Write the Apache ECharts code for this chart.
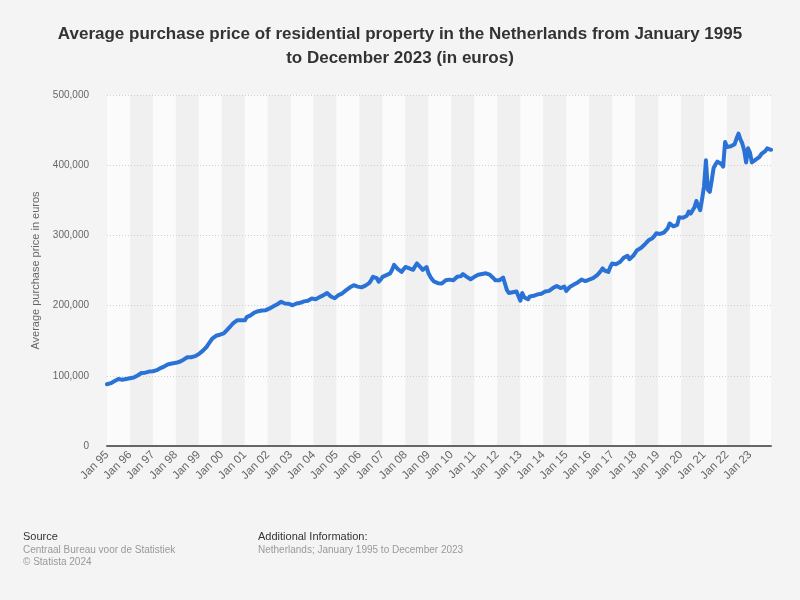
<!DOCTYPE html>
<html>
<head>
<meta charset="utf-8">
<script src="https://cdn.jsdelivr.net/npm/echarts@6/dist/echarts.min.js"></script>
<style>
html,body{margin:0;padding:0;background:#f5f4f4;}
#chart{width:800px;height:600px;}
</style>
</head>
<body>
<div id="chart"></div>
<script>
// Month abbreviations and year labels used for category names / tick labels
const monthNames = ['Jan','Feb','Mar','Apr','May','Jun','Jul','Aug','Sep','Oct','Nov','Dec'];
const yearLabels = ['95','96','97','98','99','00','01','02','03','04','05','06','07','08','09','10','11','12','13','14','15','16','17','18','19','20','21','22','23'];
const yTicks = [0, 100000, 200000, 300000, 400000, 500000];

// Monthly average purchase price (euros)
const p1995 = [88000, 88500, 89500, 91000, 92500, 94000, 95500, 95000, 94500, 95000, 95500, 96500];
const p1996 = [96500, 98000, 97500, 99000, 100500, 102000, 104000, 103500, 104500, 105500, 106000, 107000];
const p1997 = [106500, 107500, 108000, 109500, 111000, 112500, 113500, 115000, 116500, 117000, 117500, 118000];
const p1998 = [118500, 119000, 120000, 121500, 123000, 125000, 126500, 127000, 126500, 127500, 128000, 129000];
const p1999 = [131000, 133000, 135500, 138000, 141000, 145000, 149000, 153000, 155500, 157000, 157500, 158500];
const p2000 = [159000, 160500, 163000, 166000, 169000, 172000, 175000, 177000, 179000, 180500, 179000, 181000];
const p2001 = [179000, 183500, 185000, 186000, 188000, 190000, 191500, 192000, 191000, 193000, 194000, 193500];
const p2002 = [194500, 196000, 198000, 199000, 200500, 202000, 203500, 205500, 204000, 203000, 202000, 202500];
const p2003 = [201000, 200500, 202000, 203000, 203500, 204000, 205000, 206000, 205500, 207000, 208500, 210000];
const p2004 = [207500, 209000, 210500, 212000, 213000, 214500, 216500, 218000, 216000, 213000, 211000, 210500];
const p2005 = [213000, 215000, 216000, 217500, 219500, 222000, 224500, 226000, 227500, 229000, 228000, 227000];
const p2006 = [225000, 226000, 227500, 228500, 229500, 232000, 236000, 241000, 240000, 239000, 234000, 237000];
const p2007 = [241000, 242000, 243500, 245000, 246000, 251000, 258000, 255000, 252000, 251000, 248000, 252000];
const p2008 = [255000, 254000, 253000, 252000, 251000, 256000, 260000, 258000, 254000, 251000, 253000, 255000];
const p2009 = [246000, 241000, 237000, 234000, 233000, 232000, 232500, 231500, 234000, 236000, 235000, 237000];
const p2010 = [239000, 236000, 238000, 241000, 239000, 242000, 245000, 243000, 241000, 239000, 237500, 236000];
const p2011 = [241000, 242000, 244000, 243000, 245000, 247000, 246000, 248000, 244000, 242000, 239000, 236000];
const p2012 = [237000, 236000, 238000, 240000, 241000, 222000, 218000, 217000, 219000, 221000, 220000, 218000];
const p2013 = [207000, 218000, 212000, 214000, 209000, 213000, 215000, 214000, 213000, 216000, 215000, 217000];
const p2014 = [216000, 220000, 219000, 221000, 223000, 225000, 226000, 228000, 227000, 225000, 224000, 227000];
const p2015 = [221000, 223000, 227000, 228000, 230000, 232000, 233000, 235000, 237000, 236000, 235000, 236000];
const p2016 = [237000, 238000, 239000, 240000, 243000, 246000, 249000, 253000, 250000, 249000, 248000, 255000];
const p2017 = [260000, 258000, 259000, 261000, 262000, 265000, 268000, 270000, 271000, 266000, 265000, 271000];
const p2018 = [273000, 279000, 280000, 282000, 284000, 287000, 290000, 293000, 294000, 296000, 299000, 303000];
const p2019 = [301000, 302000, 303000, 304000, 306000, 310000, 317000, 315000, 313000, 312000, 315000, 326000];
const p2020 = [327000, 325000, 324000, 328000, 334000, 331000, 331000, 340000, 349000, 342000, 336000, 352000];
const p2021 = [370000, 407000, 365000, 362000, 378000, 396000, 401000, 405000, 407000, 402000, 398000, 433000];
const p2022 = [426000, 425000, 427000, 429000, 430000, 438000, 445000, 437000, 431000, 421000, 404000, 424000];
const p2023 = [418000, 404000, 403000, 408000, 410000, 412000, 416000, 417000, 420000, 424000, 423000, 422000];

const yearly = [p1995,p1996,p1997,p1998,p1999,p2000,p2001,p2002,p2003,p2004,p2005,p2006,p2007,p2008,p2009,p2010,p2011,p2012,p2013,p2014,p2015,p2016,p2017,p2018,p2019,p2020,p2021,p2022,p2023];

const categories = [];
const values = [];
yearly.forEach((arr, yi) => {
  arr.forEach((v, mi) => {
    categories.push(monthNames[mi] + ' ' + yearLabels[yi]);
    values.push(v);
  });
});

const fmt = v => String(v).replace(/\B(?=(\d{3})+(?!\d))/g, ',');
const FONT = 'Liberation Sans, Arial, sans-serif';

const chart = echarts.init(document.getElementById('chart'), null, {renderer: 'canvas'});
chart.setOption({
  backgroundColor: '#f5f4f4',
  animation: false,
  title: {
    text: 'Average purchase price of residential property in the Netherlands from January 1995\nto December 2023 (in euros)',
    left: 'center',
    top: 17,
    textStyle: {
      fontFamily: FONT,
      fontSize: 17,
      fontWeight: 'bold',
      color: '#333333',
      lineHeight: 24
    }
  },
  grid: {left: 107, right: 29, top: 95, bottom: 154, containLabel: false},
  xAxis: {
    type: 'category',
    data: categories,
    boundaryGap: false,
    z: 0,
    axisLine: {show: true, lineStyle: {color: '#666666', width: 2}},
    axisTick: {show: false},
    axisLabel: {
      interval: (idx) => idx % 12 === 0,
      rotate: 45,
      margin: 7,
      color: '#666666',
      fontSize: 11.5,
      fontFamily: FONT
    },
    splitLine: {show: false},
    splitArea: {
      show: true,
      interval: (idx) => idx % 12 === 0,
      areaStyle: {color: ['#fbfbfb', '#f0f0f0']}
    }
  },
  yAxis: {
    type: 'value',
    min: yTicks[0],
    max: yTicks[yTicks.length - 1],
    interval: 100000,
    z: 1,
    name: 'Average purchase price in euros',
    nameLocation: 'middle',
    nameRotate: 90,
    nameGap: 66,
    nameTextStyle: {color: '#666666', fontSize: 11, fontFamily: FONT},
    axisLine: {show: false},
    axisTick: {show: false},
    axisLabel: {
      formatter: fmt,
      color: '#666666',
      fontSize: 10,
      margin: 18,
      fontFamily: FONT
    },
    splitLine: {show: true, showMinLine: false, lineStyle: {color: '#cfcfcf', type: [1, 2], width: 1}}
  },
  series: [{
    type: 'line',
    data: values,
    showSymbol: false,
    symbol: 'none',
    lineStyle: {color: '#2b72d6', width: 4, cap: 'round', join: 'round'},
    z: 5,
    markArea: {
      silent: true,
      z: 0,
      itemStyle: {color: '#fbfbfb'},
      data: [[{xAxis: categories[336]}, {xAxis: categories[categories.length - 1]}]]
    }
  }],
  graphic: [
    {type: 'text', left: 23, top: 531, style: {text: 'Source', fill: '#333333', fontSize: 11, fontFamily: FONT}},
    {type: 'text', left: 23, top: 545, style: {text: 'Centraal Bureau voor de Statistiek', fill: '#999999', fontSize: 10, fontFamily: FONT}},
    {type: 'text', left: 23, top: 557, style: {text: '\u00a9 Statista 2024', fill: '#999999', fontSize: 10, fontFamily: FONT}},
    {type: 'text', left: 258, top: 531, style: {text: 'Additional Information:', fill: '#333333', fontSize: 11, fontFamily: FONT}},
    {type: 'text', left: 258, top: 545, style: {text: 'Netherlands; January 1995 to December 2023', fill: '#999999', fontSize: 10, fontFamily: FONT}}
  ]
});
</script>
</body>
</html>
